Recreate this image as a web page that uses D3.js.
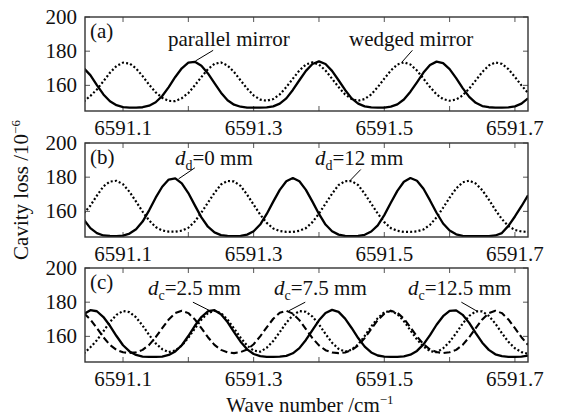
<!DOCTYPE html>
<html>
<head>
<meta charset="utf-8">
<script src="https://cdn.jsdelivr.net/npm/d3@7"></script>
<style>
  body { margin: 0; background: #fff; }
  svg { display: block; }
  text { font-family: "Liberation Serif", "Times New Roman", serif; fill: #111; }
</style>
</head>
<body>
<div id="chart"></div>
<script>
// wave number grid (cm^-1)
const wave = [
  6591.04, 6591.05, 6591.06, 6591.07, 6591.08, 6591.09, 6591.10, 6591.11, 6591.12, 6591.13,
  6591.14, 6591.15, 6591.16, 6591.17, 6591.18, 6591.19, 6591.20, 6591.21, 6591.22, 6591.23,
  6591.24, 6591.25, 6591.26, 6591.27, 6591.28, 6591.29, 6591.30, 6591.31, 6591.32, 6591.33,
  6591.34, 6591.35, 6591.36, 6591.37, 6591.38, 6591.39, 6591.40, 6591.41, 6591.42, 6591.43,
  6591.44, 6591.45, 6591.46, 6591.47, 6591.48, 6591.49, 6591.50, 6591.51, 6591.52, 6591.53,
  6591.54, 6591.55, 6591.56, 6591.57, 6591.58, 6591.59, 6591.60, 6591.61, 6591.62, 6591.63,
  6591.64, 6591.65, 6591.66, 6591.67, 6591.68, 6591.69, 6591.70, 6591.71, 6591.72
];

// (a) cavity loss, parallel mirror (solid) and wedged mirror (dotted)
const aParallel = [
  170, 166, 160.1, 154.7, 150.7, 148.4, 147.3, 147, 147, 147.2,
  148.1, 150.1, 153.8, 159, 164.9, 170, 173.3, 173.8, 171.5, 167,
  161.3, 155.7, 151.3, 148.7, 147.5, 147, 147, 147, 147.1, 147.7,
  149.3, 152.4, 157.3, 163, 168.5, 172.5, 174, 172.5, 168.5, 163,
  157.3, 152.4, 149.3, 147.7, 147.1, 147, 147, 147.6, 148.9, 151.7,
  156.3, 161.8, 167.5, 171.9, 173.9, 173, 169.5, 164.2, 158.4, 153.3,
  149.8, 147.9, 147.2, 147, 147, 147.1, 147.7, 149.3, 152.4
];
const aWedged = [
  150.6, 153.8, 157.6, 162.4, 167.4, 171.3, 173.3, 172.8, 169.9, 165.4,
  160.4, 155.9, 152.7, 150.9, 150.8, 152.5, 155.5, 160, 164.9, 169.5,
  172.6, 173.4, 171.6, 167.8, 162.9, 158.1, 154.1, 151.7, 151, 152,
  154.7, 159, 163.9, 168.7, 172.2, 173.5, 172.2, 168.7, 163.9, 159,
  154.7, 152, 151, 152, 154.7, 159, 163.9, 168.7, 172.2, 173.5,
  172.2, 168.7, 163.9, 159, 154.7, 152, 151, 151.7, 154.1, 158.1,
  162.9, 167.8, 171.6, 173.4, 172.6, 169.5, 164.9, 160, 155.5
];

// (b) d_d = 0 mm (solid) and d_d = 12 mm (dotted)
const bD0 = [
  155.2, 150.2, 147.3, 145.9, 145.6, 145.5, 145.8, 147, 149.5, 154,
  160.6, 168, 174.4, 178.6, 179.3, 176.4, 170.7, 163.5, 156.5, 151,
  147.7, 146.1, 145.6, 145.5, 145.6, 146.4, 148.4, 152.3, 158.5, 165.7,
  172.6, 177.6, 179.5, 177.6, 172.6, 165.7, 158.5, 152.3, 148.4, 146.4,
  145.6, 145.5, 145.6, 146.3, 148.2, 151.8, 157.8, 165, 172, 177.3,
  179.5, 177.9, 173.2, 166.4, 159.2, 152.9, 148.8, 146.6, 145.7, 145.5,
  145.5, 145.5, 145.5, 145.9, 147.3, 151.5, 157, 163, 169.4
];
const bD12 = [
  159, 163.3, 169.2, 174.6, 177.4, 177.9, 175.9, 171.4, 165.7, 159.8,
  154.7, 150.8, 148.8, 148.1, 148.1, 148.7, 150.4, 154.1, 159.3, 165.1,
  170.8, 175.7, 177.8, 177.5, 174.9, 169.8, 163.9, 158.1, 153.3, 150,
  148.5, 148, 148, 148.6, 150.2, 153.7, 158.7, 164.5, 170.3, 175.4,
  177.7, 177.7, 175.4, 170.3, 164.5, 158.7, 153.7, 150.2, 148.6, 148,
  148, 148.3, 149.4, 152.1, 156.5, 162.1, 168, 173.4, 177, 178,
  176.3, 172.4, 166.9, 160.9, 155.5, 151.4, 149.1, 148.2, 148
];

// (c) d_c = 2.5 mm (solid), 7.5 mm (dashed), 12.5 mm (dotted)
const cD25 = [
  173, 175.3, 174.7, 171.3, 166.2, 160.2, 154.8, 151.2, 149.1, 148.2,
  148, 148, 148.2, 149.1, 151.2, 154.8, 160.2, 166.2, 171.3, 174.7,
  175.3, 173, 168.4, 162.5, 156.9, 152.4, 149.7, 148.4, 148, 148,
  148.1, 148.6, 150.1, 153.1, 157.9, 163.7, 169.4, 173.7, 175.5, 174.3,
  170.4, 164.9, 159, 154, 150.6, 148.8, 148.1, 148, 148, 148.3,
  149.3, 151.5, 155.3, 160.7, 166.8, 171.8, 174.9, 175.2, 172.6, 167.9,
  161.9, 156.3, 152.1, 149.5, 148.4, 148, 148, 148.2, 148.7
];
const cD75 = [
  173.6, 169.9, 164.8, 159.5, 155, 152.1, 150.7, 150.3, 150.7, 152.1,
  155, 159.5, 164.8, 169.9, 173.6, 175, 173.6, 169.9, 164.8, 159.5,
  155, 152.1, 150.7, 150.2, 150.8, 152.3, 155.4, 160, 165.3, 170.3,
  173.8, 175, 173.3, 169.5, 164.3, 159, 154.7, 151.9, 150.6, 150.2,
  150.6, 151.9, 154.7, 159, 164.3, 169.5, 173.3, 175, 173.8, 170.3,
  165.3, 160, 155.4, 152.3, 150.8, 150.2, 150.7, 152.1, 155, 159.5,
  164.8, 169.9, 173.6, 175, 173.6, 169.9, 164.8, 159.5, 155
];
const cD125 = [
  150, 153.6, 157.7, 163, 168.4, 172.6, 174.8, 174.2, 171.1, 166.3,
  160.8, 155.9, 152.5, 150.8, 151.7, 154.6, 159.2, 164.6, 169.8, 173.6,
  175, 173.6, 169.8, 164.6, 159.2, 154.6, 151.7, 151, 153.3, 157.3,
  162.5, 168, 172.3, 174.8, 174.4, 171.6, 167, 161.4, 156.3, 152.7,
  151, 152.2, 155.3, 160.2, 165.8, 170.7, 174.1, 174.9, 173, 168.9,
  163.5, 158.2, 154, 151.4, 150.7, 153, 156.8, 161.9, 167.5, 172,
  174.6, 174.6, 172, 167.5, 161.9, 156.8, 153, 150.8, 149.8
];

const yTicks = [160, 180, 200];
const xTicks = [6591.1, 6591.2, 6591.3, 6591.4, 6591.5, 6591.6, 6591.7];
const xTickLabels = [6591.1, 6591.3, 6591.5, 6591.7];
const panelNames = ["(a)", "(b)", "(c)"];

const W = 562, H = 420;
const svg = d3.select("#chart").append("svg").attr("width", W).attr("height", H);
svg.append("rect").attr("width", W).attr("height", H).attr("fill", "#fff");

const left = 85, right = 528, ph = 94;
const tops = [17, 143, 268];
const fs = 21;
const x = d3.scaleLinear().domain([6591.0418, 6591.72]).range([left, right]);

const styles = {
  solid: { dash: null, width: 2.3 },
  dotted: { dash: "2,2.2", width: 2.2 },
  dashed: { dash: "7,3.5", width: 2.1 }
};

const panels = [
  { series: [{ v: aWedged, s: "dotted" }, { v: aParallel, s: "solid" }] },
  { series: [{ v: bD12, s: "dotted" }, { v: bD0, s: "solid" }] },
  { series: [{ v: cD125, s: "dotted" }, { v: cD75, s: "dashed" }, { v: cD25, s: "solid" }] }
];

// annotations: text pieces, start x, baseline offset, leader line in data units
const notes = [
  [
    { parts: [["parallel mirror"]], x0: 168, dy: 29, lead: [[6591.238, 180.5], [6591.211, 174.3]] },
    { parts: [["wedged mirror"]], x0: 349, dy: 29, lead: [[6591.543, 180.5], [6591.527, 173.6]] }
  ],
  [
    { parts: [["d", "i"], ["d", "sub"], ["=0 mm"]], x0: 175, dy: 22, lead: [[6591.21, 185.5], [6591.185, 179]] },
    { parts: [["d", "i"], ["d", "sub"], ["=12 mm"]], x0: 315, dy: 22, lead: [[6591.464, 184.5], [6591.447, 177.8]] }
  ],
  [
    { parts: [["d", "i"], ["c", "sub"], ["=2.5 mm"]], x0: 148, dy: 27, lead: [[6591.207, 180], [6591.233, 175]] },
    { parts: [["d", "i"], ["c", "sub"], ["=7.5 mm"]], x0: 274, dy: 27, lead: [[6591.379, 180], [6591.354, 175]] },
    { parts: [["d", "i"], ["c", "sub"], ["=12.5 mm"]], x0: 408, dy: 27, lead: [[6591.618, 180], [6591.643, 174.5]] }
  ]
];

panels.forEach((p, i) => {
  const top = tops[i];
  const y = d3.scaleLinear().domain([145, 200]).range([top + ph, top]);
  const g = svg.append("g");

  const clipId = "clip" + i;
  svg.append("clipPath").attr("id", clipId)
    .append("rect").attr("x", left).attr("y", top).attr("width", right - left).attr("height", ph);

  // ticks, inward on all four sides
  const tk = g.append("g").attr("stroke", "#555").attr("stroke-width", 1);
  xTicks.forEach(t => {
    tk.append("line").attr("x1", x(t)).attr("x2", x(t)).attr("y1", top + ph).attr("y2", top + ph - 5);
    tk.append("line").attr("x1", x(t)).attr("x2", x(t)).attr("y1", top).attr("y2", top + 5);
  });
  yTicks.forEach(t => {
    tk.append("line").attr("x1", left).attr("x2", left + 5).attr("y1", y(t)).attr("y2", y(t));
    tk.append("line").attr("x1", right).attr("x2", right - 5).attr("y1", y(t)).attr("y2", y(t));
  });

  // curves
  const line = d3.line().x((d, k) => x(wave[k])).y(d => y(d));
  p.series.forEach(s => {
    const st = styles[s.s];
    g.append("path")
      .datum(s.v)
      .attr("clip-path", "url(#" + clipId + ")")
      .attr("d", line)
      .attr("fill", "none")
      .attr("stroke", "#000")
      .attr("stroke-width", st.width)
      .attr("stroke-dasharray", st.dash)
      .attr("stroke-linejoin", "round");
  });

  // frame
  g.append("rect")
    .attr("x", left).attr("y", top).attr("width", right - left).attr("height", ph)
    .attr("fill", "none").attr("stroke", "#333").attr("stroke-width", 1.4);

  // tick labels
  yTicks.forEach(t => {
    g.append("text").attr("x", left - 8).attr("y", y(t) + 7)
      .attr("text-anchor", "end").style("font-size", fs + "px").text(t);
  });
  xTickLabels.forEach(t => {
    g.append("text").attr("x", x(t)).attr("y", top + ph + 24)
      .attr("text-anchor", "middle").style("font-size", fs + "px").text(t.toFixed(1));
  });

  // panel name
  g.append("text").attr("x", left + 5).attr("y", top + 21).style("font-size", fs + "px").text(panelNames[i]);

  // annotations
  notes[i].forEach(n => {
    const t = g.append("text").attr("x", n.x0).attr("y", top + n.dy).style("font-size", fs + "px");
    let shifted = false;
    n.parts.forEach(([str, kind]) => {
      const ts = t.append("tspan").text(str);
      if (kind === "i") ts.style("font-style", "italic");
      if (kind === "sub") { ts.attr("dy", 5).style("font-size", "14px"); shifted = true; }
      else if (shifted) { ts.attr("dy", -5); shifted = false; }
    });
    g.append("line")
      .attr("x1", x(n.lead[0][0])).attr("y1", y(n.lead[0][1]))
      .attr("x2", x(n.lead[1][0])).attr("y2", y(n.lead[1][1]))
      .attr("stroke", "#000").attr("stroke-width", 1);
  });
});

// axis titles
const yt = svg.append("text")
  .attr("transform", "translate(28,190) rotate(-90)")
  .attr("text-anchor", "middle")
  .style("font-size", fs + "px");
yt.append("tspan").text("Cavity loss /10");
yt.append("tspan").attr("dy", -8).style("font-size", "13px").text("\u22126");

const xt = svg.append("text")
  .attr("x", 310).attr("y", 412)
  .attr("text-anchor", "middle")
  .style("font-size", fs + "px");
xt.append("tspan").text("Wave number /cm");
xt.append("tspan").attr("dy", -8).style("font-size", "13px").text("\u22121");
</script>
</body>
</html>
